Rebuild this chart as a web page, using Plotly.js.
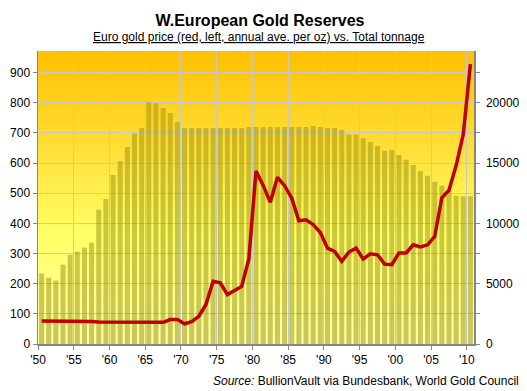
<!DOCTYPE html>
<html>
<head>
<meta charset="utf-8">
<script src="https://cdn.plot.ly/plotly-3.0.1.min.js"></script>
<style>
  html, body { margin: 0; padding: 0; background: #ffffff; }
  #wrap { position: relative; width: 527px; height: 391px; }
  #bg { position: absolute; left: 38px; top: 51px; width: 436px; height: 293px;
        background: linear-gradient(to bottom, #ffc000 0%, #ffe13a 35%, #ffff66 62%, #ffffa6 100%); z-index: 0; }
  #chart { position: absolute; left: 0; top: 0; width: 527px; height: 391px; z-index: 1; }
</style>
</head>
<body>
<div id="wrap"><div id="bg"></div><div id="chart"></div></div>
<script>
const years = [];
for (let y = 1950; y <= 2010; y++) years.push(y);

// Total tonnage of W.European gold reserves (right axis)
const tonnage = [
  5860, 5500, 5260, 6580, 7410, 7660, 7990, 8400, 11130, 12030,
  14020, 15180, 16340, 17450, 17920, 20050, 19960, 19580, 19160, 18420,
  17920, 17920, 17920, 17920, 17920, 17920, 17920, 17920, 17920, 18000,
  18000, 18000, 18000, 18000, 18000, 18000, 18000, 18000, 18090, 18000,
  17920, 17920, 17750, 17370, 17370, 17090, 16760, 16430, 16020, 16100,
  15680, 15280, 14850, 14350, 13950, 13450, 13120, 12780, 12300, 12250,
  12250
];

// Euro gold price, annual average per oz (left axis)
const price = [
  76, 76, 76, 76, 76, 76, 76, 75, 73, 73,
  73, 72, 72, 72, 72, 72, 72, 72, 81, 81,
  67, 74, 92, 131, 208, 203, 164, 177, 191, 282,
  574, 526, 470, 553, 525, 484, 409, 412, 396, 370,
  318, 307, 274, 305, 318, 282, 299, 296, 265, 263,
  302, 302, 329, 322, 329, 357, 485, 510, 592, 696,
  929
];

const xTickVals = [1949.5, 1954.5, 1959.5, 1964.5, 1969.5, 1974.5, 1979.5, 1984.5, 1989.5, 1994.5, 1999.5, 2004.5, 2009.5];
const xTickText = ["'50", "'55", "'60", "'65", "'70", "'75", "'80", "'85", "'90", "'95", "'00", "'05", "'10"];

const FONT = 'Liberation Sans, Arial, sans-serif';
const GRID = '#c8c8c8';
const AXIS = '#868686';

const traces = [
  {
    type: 'bar', x: years, y: tonnage, yaxis: 'y', name: 'Total tonnage',
    width: 0.7,
    marker: { color: 'rgba(150,145,20,0.5)', line: { width: 0 } },
    hoverinfo: 'skip'
  },
  {
    type: 'scatter', mode: 'lines', x: years, y: price, yaxis: 'y2', name: 'Euro gold price',
    line: { color: '#c00000', width: 3.5 },
    hoverinfo: 'skip'
  }
];

const layout = {
  width: 527, height: 391,
  margin: { l: 38, r: 53, t: 51, b: 47 },
  paper_bgcolor: 'rgba(0,0,0,0)',
  plot_bgcolor: 'rgba(0,0,0,0)',
  showlegend: false,
  bargap: 0.3,
  font: { family: FONT, size: 12, color: '#000000' },
  title: {
    text: '<b>W.European Gold Reserves</b>',
    font: { family: FONT, size: 16, color: '#000000' },
    xref: 'container', yref: 'container',
    x: 260 / 527, y: 1 - 20 / 391, xanchor: 'center', yanchor: 'middle'
  },
  xaxis: {
    range: [1949.5, 2010.5],
    tickmode: 'array', tickvals: xTickVals, ticktext: xTickText,
    showgrid: true, gridcolor: GRID, gridwidth: 1,
    showline: true, linecolor: AXIS, linewidth: 1.5,
    ticks: 'outside', ticklen: 4, tickcolor: AXIS,
    zeroline: false,
    tickfont: { family: FONT, size: 12, color: '#000000' }
  },
  yaxis: {
    side: 'right', range: [0, 24300],
    tickmode: 'linear', tick0: 0, dtick: 5000, tickformat: 'd',
    showgrid: false, zeroline: false,
    showline: true, linecolor: AXIS, linewidth: 1.5,
    ticks: 'outside', ticklen: 4, tickcolor: AXIS,
    minor: { dtick: 2500, ticks: 'outside', ticklen: 4, tickcolor: AXIS, showgrid: false },
    ticklabelstandoff: 4,
    tickfont: { family: FONT, size: 12, color: '#000000' }
  },
  yaxis2: {
    side: 'left', overlaying: 'y', range: [0, 972],
    tickmode: 'linear', tick0: 0, dtick: 100,
    showgrid: true, gridcolor: GRID, gridwidth: 1,
    zeroline: false,
    showline: true, linecolor: AXIS, linewidth: 1.5,
    ticks: 'outside', ticklen: 4, tickcolor: AXIS,
    tickfont: { family: FONT, size: 12, color: '#000000' }
  },
  annotations: [
    {
      text: 'Euro gold price (red, left, annual ave. per oz) vs. Total tonnage',
      xref: 'paper', yref: 'paper', x: (259 - 38) / 436, y: (344 - 37) / 293,
      xanchor: 'center', yanchor: 'middle', showarrow: false,
      font: { family: FONT, size: 12, color: '#000000', lineposition: 'under' }
    },
    {
      text: '<i>Source:</i> BullionVault via Bundesbank, World Gold Council',
      xref: 'paper', yref: 'paper', x: (521 - 38) / 436, y: (344 - 381) / 293,
      xanchor: 'right', yanchor: 'middle', showarrow: false,
      font: { family: FONT, size: 12, color: '#000000' }
    }
  ]
};

Plotly.newPlot('chart', traces, layout, { displayModeBar: false, staticPlot: true });
</script>
</body>
</html>
